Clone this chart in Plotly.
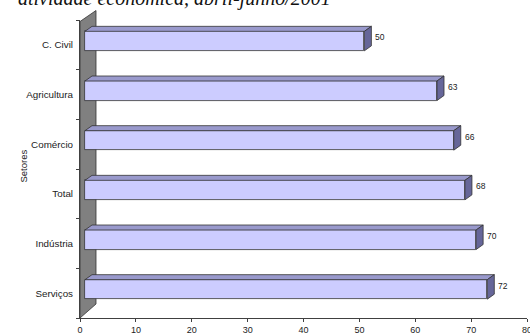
import plotly.graph_objects as go

# ---------------- data ----------------
sectors = ["Serviços", "Indústria", "Total", "Comércio", "Agricultura", "C. Civil"]
values = [72, 70, 68, 66, 63, 50]
x_ticks = [0, 10, 20, 30, 40, 50, 60, 70, 80]
title_text = "atividade econômica, abril-junho/2001"
axis_title = "Setores"

# ---------------- layout geometry (pixels) ----------------
W, H = 530, 333
ML, MR, MT, MB = 80, 3, 20, 15
XMAX = 80
pw = W - ML - MR
ph = H - MT - MB
ux = pw / XMAX            # px per value unit
uy = ph / len(sectors)    # px per category

# 3D look (pixel offsets converted to data units)
DX = 5 / ux               # bars' plane shift to the right
DEPTH_X = 7 / ux          # bar depth (x)
DEPTH_Y = 5 / uy          # bar depth (y)
BAR_LO = -6 / uy
BAR_HI = 13.5 / uy
LABEL_DY = 7.5 / uy

FONT = "Liberation Sans, Arial, sans-serif"
FRONT = "#CCCCFF"
TOP = "#9999CC"
SIDE = "#666699"
EDGE = "#333333"

pos = list(range(len(sectors)))

fig = go.Figure()

# front faces
fig.add_trace(go.Bar(
    x=values, y=pos, base=DX, orientation="h",
    width=BAR_HI - BAR_LO, offset=BAR_LO,
    marker=dict(color=FRONT, line=dict(color=EDGE, width=0.8)),
    hoverinfo="skip", showlegend=False,
))

# top and side faces
tx, ty, sx, sy = [], [], [], []
for k, v in zip(pos, values):
    x0 = DX
    x1 = DX + v
    tx += [x0, x1, x1 + DEPTH_X, x0 + DEPTH_X, x0, None]
    ty += [k + BAR_HI, k + BAR_HI, k + BAR_HI + DEPTH_Y, k + BAR_HI + DEPTH_Y, k + BAR_HI, None]
    sx += [x1, x1, x1 + DEPTH_X, x1 + DEPTH_X, x1, None]
    sy += [k + BAR_LO, k + BAR_HI, k + BAR_HI + DEPTH_Y, k + BAR_LO + DEPTH_Y, k + BAR_LO, None]

fig.add_trace(go.Scatter(x=tx, y=ty, mode="lines", fill="toself", fillcolor=TOP,
                         line=dict(color=EDGE, width=0.8), hoverinfo="skip", showlegend=False))
fig.add_trace(go.Scatter(x=sx, y=sy, mode="lines", fill="toself", fillcolor=SIDE,
                         line=dict(color=EDGE, width=0.8), hoverinfo="skip", showlegend=False))

# value labels
for k, v in zip(pos, values):
    fig.add_annotation(x=DX + v + DEPTH_X, y=k + LABEL_DY, text=str(v),
                       xref="x", yref="y", xanchor="left", yanchor="middle",
                       xshift=2, showarrow=False,
                       font=dict(family=FONT, size=8.5, color="#222222"))

# back wall (decoration, paper coords)
wx = 16 / pw
path = (f"M 0,0 L 0,{(ph - 1.5) / ph} L {wx},{(ph + 9.5) / ph} "
        f"L {wx},{14 / ph} Z")
fig.add_shape(type="path", path=path, xref="paper", yref="paper",
              fillcolor="#808080", line=dict(color=EDGE, width=0.8), layer="below")

# axis title
fig.add_annotation(x=(15 - ML) / pw, y=(H - MB - 166) / ph, xref="paper", yref="paper",
                   text=axis_title, textangle=-90, showarrow=False,
                   font=dict(family=FONT, size=9.5, color="#222222"))

# chart title (cropped at the top of the picture, as in the reference)
fig.add_annotation(x=(333 - ML) / pw, y=1 + (MT - 12) / ph, xref="paper", yref="paper",
                   xanchor="right", yanchor="bottom", text=title_text, showarrow=False,
                   font=dict(family="Liberation Serif, Times New Roman, serif", size=20,
                             color="#111111", style="italic"))

fig.update_layout(
    width=W, height=H,
    margin=dict(l=ML, r=MR, t=MT, b=MB, pad=0, autoexpand=False),
    paper_bgcolor="white", plot_bgcolor="white",
    bargap=0, showlegend=False,
    xaxis=dict(range=[0, XMAX], tickvals=x_ticks, showgrid=False, zeroline=False,
               automargin=False, ticklabeloverflow="allow",
               showline=True, linecolor="#404040", linewidth=1,
               ticks="outside", ticklen=3, tickcolor="#404040",
               tickfont=dict(family=FONT, size=9, color="#222222")),
    yaxis=dict(range=[-0.5, len(sectors) - 0.5], tickvals=pos, ticktext=sectors,
               automargin=False,
               showgrid=False, zeroline=False, showline=True, linecolor="#404040", linewidth=1,
               ticks="outside", ticklen=4, tickcolor="rgba(0,0,0,0)",
               minor=dict(tickvals=[p - 0.5 for p in pos] + [len(sectors) - 0.5],
                          ticks="outside", ticklen=3, tickcolor="#404040", showgrid=False),
               tickfont=dict(family=FONT, size=9.8, color="#222222")),
)

fig.write_html("out.html")
